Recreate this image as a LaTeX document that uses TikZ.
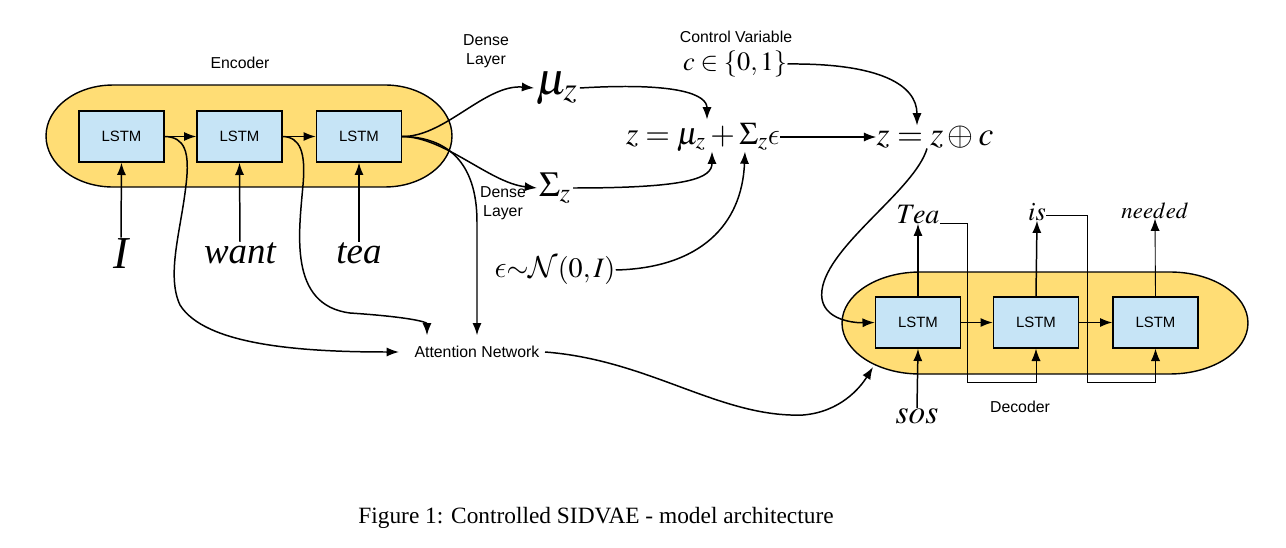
\documentclass[tikz,border=0pt]{standalone}
\usepackage{mathptmx}
\usepackage{fontspec}
\setmainfont{Liberation Serif}
\newfontfamily\arialf{Liberation Sans}
\DeclareSymbolFont{cmlet}{OML}{cmm}{m}{it}
\DeclareMathSymbol{\lunateeps}{\mathord}{cmlet}{"0F}
\DeclareSymbolFont{cmsym}{OMS}{cmsy}{m}{n}
\DeclareSymbolFontAlphabet{\mathcal}{cmsym}
\usetikzlibrary{arrows.meta,calc}
\definecolor{encyellow}{RGB}{255,221,117}
\definecolor{lstmblue}{RGB}{198,228,246}
\tikzset{
  lstmbox/.style={draw, line width=0.8pt, fill=lstmblue, minimum width=1.7cm, minimum height=1.02cm, inner sep=0pt, font=\arialf\fontsize{8.5}{10}\selectfont},
  lbl/.style={inner sep=0pt, font=\arialf\fontsize{9}{11}\selectfont, align=center},
  word/.style={inner sep=0pt},
  arr/.style={-{Latex[length=7pt,width=5.2pt]}, line width=0.85pt},
  thinarr/.style={-{Latex[length=7pt,width=5.2pt]}, line width=0.5pt},
  pod/.style={draw, line width=0.8pt, fill=encyellow},
}
\begin{document}
\begin{tikzpicture}[x=0.02cm,y=-0.02cm]
\fill[white] (0,0) rectangle (1286,548);
\useasboundingbox (0,0) rectangle (1286,548);
% pods
\path[pod] (113,85) -- (385,85) arc[start angle=90,end angle=-90,x radius=1.34cm,y radius=1.02cm] -- (113,187) arc[start angle=270,end angle=90,x radius=1.34cm,y radius=1.02cm] -- cycle;
\path[pod] (920,272) -- (1170,272) arc[start angle=90,end angle=-90,x radius=1.56cm,y radius=1.02cm] -- (920,374) arc[start angle=270,end angle=90,x radius=1.56cm,y radius=1.02cm] -- cycle;
% encoder
\node[lstmbox] (b1) at (121.5,136.5) {LSTM};
\node[lstmbox] (b2) at (239.5,136.5) {LSTM};
\node[lstmbox] (b3) at (359,136.5) {LSTM};
\node[lbl] (enclbl) at (240,63) {Encoder};
\node[word, anchor=base, font=\fontsize{26}{28}\selectfont\itshape] (wI) at (121,268) {I};
\node[word, anchor=base, font=\fontsize{21}{24}\selectfont\itshape] (wwant) at (240,263) {want};
\node[word, anchor=base, font=\fontsize{21}{24}\selectfont\itshape] (wtea) at (359,263) {tea};
% latent
\node[lbl] (dense1) at (486,51) {Dense\\Layer};
\node[lbl] (dense2) at (503,203) {Dense\\Layer};
\node[inner sep=1pt, font=\fontsize{26}{30}\selectfont] (mu) at (557,88) {$\mu_z$};
\node[inner sep=1pt, font=\fontsize{20}{24}\selectfont] (sigma) at (555,188) {$\Sigma_z$};
\node[word, font=\fontsize{18}{21}\selectfont] (eq) at (703,137) {$z=\mu_z+\Sigma_z\lunateeps$};
\node[word, font=\fontsize{19}{22}\selectfont] (eq2) at (935,137) {$z=z\oplus c$};
\node[lbl] (ctrl) at (736,37) {Control Variable};
\node[word, font=\fontsize{15}{18}\selectfont] (cset) at (735,64) {$c\in\{0,1\}$};
\node[word, font=\fontsize{16}{19}\selectfont] (eps) at (555,270) {$\lunateeps{\sim}\mathcal{N}(0,I)$};
\node[lbl, inner xsep=3pt, inner ysep=6pt] (attn) at (477,352) {Attention Network};
% decoder
\node[lstmbox] (dl1) at (918,322.5) {LSTM};
\node[lstmbox] (dl2) at (1036,322.5) {LSTM};
\node[lstmbox] (dl3) at (1155.5,322.5) {LSTM};
\node[lbl] (declbl) at (1020,407) {Decoder};
\node[word, anchor=base, font=\fontsize{16}{18}\selectfont] (otea) at (918,223) {$Tea$};
\node[word, anchor=base, font=\fontsize{15}{18}\selectfont] (ois) at (1037,220) {$is$};
\node[word, anchor=base, font=\fontsize{13}{16}\selectfont] (oneeded) at (1155,218) {$needed$};
\node[word, anchor=base, font=\fontsize{19}{22}\selectfont] (sos) at (917,423) {$sos$};
\coordinate (decin) at (873,367);
% caption
\node[anchor=base, inner sep=0pt, font=\fontsize{13.3}{16}\selectfont] (cap) at (596,523) {Figure 1: Controlled SIDVAE - model architecture};
% encoder connectors
\draw[arr] (b1.east) -- (b2.west);
\draw[arr] (b2.east) -- (b3.west);
\draw[arr] (wI.north) -- (b1.south);
\draw[arr] (wwant.north) -- (b2.south);
\draw[arr] (wtea.north) -- (b3.south);
\draw[arr] (b1.east) .. controls (185,137) and (190,152) .. (186,185) .. controls (181,230) and (166,275) .. (180,305) .. controls (205,345) and (300,352) .. ([xshift=-0.2cm]attn.west);
\draw[arr] (b2.east) .. controls (300,137) and (306,152) .. (303,185) .. controls (299,232) and (288,305) .. (350,313) .. controls (410,317) and (427,322) .. ([xshift=-1cm]attn.north);
\draw[arr] (b3.east) .. controls (445,137) and (477,160) .. (477,222) -- (attn.north);
\draw[arr] (b3.east) .. controls (445,137) and (485,84) .. (mu.west);
\draw[arr] (b3.east) .. controls (445,137) and (490,183) .. (sigma.west);
% latent connectors
\draw[arr] (mu.east) .. controls (680,82) and (707,95) .. ([xshift=0.08cm,yshift=0.06cm]eq.north);
\draw[arr] (sigma.east) .. controls (690,188) and (712,178) .. ([xshift=0.18cm]eq.south);
\draw[arr] (eps.east) .. controls (700,268) and (742,225) .. ([xshift=0.84cm]eq.south);
\draw[arr] (eq.east) -- (eq2.west);
\draw[arr] (cset.east) .. controls (880,63) and (917,85) .. ([xshift=-0.36cm]eq2.north);
\draw[arr] ([xshift=-0.16cm]eq2.south) .. controls (915,190) and (828,245) .. (822,290) .. controls (818,318) and (850,323) .. (dl1.west);
\draw[arr] (attn.east) .. controls (650,360) and (720,418) .. (803,415) .. controls (840,412) and (860,388) .. (decin);
% decoder connectors
\draw[arr] (dl1.east) -- (dl2.west);
\draw[arr] (dl2.east) -- (dl3.west);
\draw[arr] (sos.north) -- (dl1.south);
\draw[arr] (dl1.north) -- (otea.south);
\draw[arr] (dl2.north) -- (ois.south);
\draw[thinarr] (dl3.north) -- (oneeded.south);
\draw[thinarr] (otea.base east) -| (967,382) -| (dl2.south);
\draw[thinarr] ([yshift=0.1cm]ois.base east) -| (1087,382) -| (dl3.south);
\end{tikzpicture}
\end{document}
